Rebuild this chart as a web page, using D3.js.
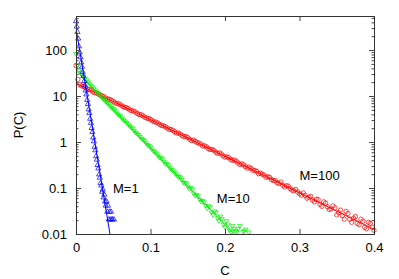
<!DOCTYPE html>
<html>
<head>
<meta charset="utf-8">
<script src="https://cdn.jsdelivr.net/npm/d3@7"></script>
<style>
	body { margin: 0; background: #fff; }
	svg { display: block; }
	text { font-family: "Liberation Sans", Arial, sans-serif; }
</style>
</head>
<body>
<div class="chart__pc"><svg></svg></div>
<script>
(function() {

	// P(C), [C, P]
	var redPts = [[0,46],[0.0025,23],[0.005,17.6],[0.0075,16.6],[0.01,16.2],[0.0125,15.4],[0.015,14.2],[0.0175,13.9],[0.02,13.4],[0.0225,12.3],
		[0.025,11.8],[0.0275,11.6],[0.03,11.1],[0.0325,10.4],[0.035,10.1],[0.0375,9.7],[0.04,9.0],[0.0425,8.6],[0.045,8.5],[0.0475,8.1],
		[0.05,7.6],[0.0525,7.1],[0.055,6.9],[0.0575,6.7],[0.06,6.4],[0.0625,6.0],[0.065,5.7],[0.0675,5.6],[0.07,5.35],[0.0725,4.95],
		[0.075,4.8],[0.0775,4.7],[0.08,4.45],[0.0825,4.15],[0.085,3.95],[0.0875,3.9],[0.09,3.7],[0.0925,3.45],[0.095,3.3],[0.0975,3.25],
		[0.1,3.1],[0.1025,2.9],[0.105,2.75],[0.1075,2.7],[0.11,2.58],[0.1125,2.4],[0.115,2.28],[0.1175,2.25],[0.12,2.15],[0.1225,2.0],
		[0.125,1.9],[0.1275,1.88],[0.13,1.8],[0.1325,1.66],[0.135,1.57],[0.1375,1.56],[0.14,1.49],[0.1425,1.38],[0.145,1.31],[0.1475,1.32],
		[0.15,1.25],[0.1525,1.15],[0.155,1.08],[0.1575,1.10],[0.16,1.04],[0.1625,0.97],[0.165,0.95],[0.1675,0.90],[0.17,0.82],[0.1725,0.83],
		[0.175,0.79],[0.1775,0.72],[0.18,0.69],[0.1825,0.69],[0.185,0.66],[0.1875,0.60],[0.19,0.57],[0.1925,0.58],[0.195,0.55],[0.1975,0.50],
		[0.2,0.47],[0.2025,0.475],[0.205,0.46],[0.2075,0.42],[0.21,0.40],[0.2125,0.405],[0.215,0.385],[0.2175,0.35],[0.22,0.325],[0.2225,0.335],
		[0.225,0.32],[0.2275,0.29],[0.23,0.27],[0.2325,0.285],[0.235,0.265],[0.2375,0.245],[0.24,0.24],[0.2425,0.23],[0.245,0.205],[0.2475,0.21],
		[0.25,0.20],[0.2525,0.19],[0.255,0.172],[0.2575,0.176],[0.26,0.17],[0.2625,0.152],[0.265,0.145],[0.2675,0.145],[0.27,0.13],[0.2725,0.125],
		[0.275,0.135],[0.2775,0.115],[0.28,0.105],[0.2825,0.112],[0.285,0.11],[0.2875,0.097],[0.29,0.09],[0.2925,0.087],[0.295,0.093],[0.2975,0.082],
		[0.3,0.075],[0.3025,0.07],[0.305,0.078],[0.3075,0.069],[0.31,0.06],[0.3125,0.063],[0.315,0.066],[0.3175,0.055],[0.32,0.05],[0.3225,0.057],
		[0.325,0.056],[0.3275,0.044],[0.33,0.04],[0.3325,0.05],[0.335,0.047],[0.3375,0.039],[0.34,0.034],[0.3425,0.035],[0.345,0.041],[0.3475,0.037],
		[0.35,0.026],[0.3525,0.029],[0.355,0.033],[0.3575,0.025],[0.36,0.021],[0.3625,0.031],[0.365,0.028],[0.3675,0.021],[0.37,0.018],[0.3725,0.022],
		[0.375,0.024],[0.3775,0.017],[0.38,0.016],[0.3825,0.021],[0.385,0.019],[0.3875,0.014],[0.39,0.013],[0.3925,0.018],[0.395,0.017],[0.3975,0.014],
		[0.4,0.012]]

	var greenPts = [[0,82],[0.002,45],[0.004,36],[0.006,32],[0.008,29],[0.01,26],[0.012,24],[0.014,22],[0.016,20],[0.018,18.5],
		[0.02,17],[0.022,15.6],[0.024,14.5],[0.026,13.2],[0.028,12],[0.03,11.2],[0.032,10.3],[0.034,9.5],[0.036,8.8],[0.038,8.1],
		[0.04,7.5],[0.042,7.0],[0.044,6.6],[0.046,6.0],[0.048,5.5],[0.05,5.2],[0.052,4.9],[0.054,4.4],[0.056,4.0],[0.058,3.8],
		[0.06,3.6],[0.062,3.25],[0.064,2.95],[0.066,2.8],[0.068,2.6],[0.07,2.4],[0.072,2.2],[0.074,2.05],[0.076,1.95],[0.078,1.75],
		[0.08,1.58],[0.082,1.52],[0.084,1.42],[0.086,1.28],[0.088,1.17],[0.09,1.12],[0.092,1.05],[0.094,0.94],[0.096,0.86],[0.098,0.82],
		[0.1,0.77],[0.102,0.69],[0.104,0.63],[0.106,0.6],[0.108,0.56],[0.11,0.5],[0.112,0.46],[0.114,0.445],[0.116,0.42],[0.118,0.37],
		[0.12,0.33],[0.122,0.33],[0.124,0.31],[0.126,0.27],[0.128,0.25],[0.13,0.24],[0.132,0.22],[0.134,0.2],[0.136,0.18],[0.138,0.172],
		[0.14,0.17],[0.142,0.15],[0.144,0.13],[0.146,0.128],[0.148,0.125],[0.15,0.107],[0.152,0.095],[0.154,0.1],[0.156,0.092],[0.158,0.076],
		[0.16,0.068],[0.162,0.07],[0.164,0.066],[0.166,0.056],[0.168,0.05],[0.17,0.052],[0.172,0.049],[0.174,0.041],[0.176,0.036],[0.178,0.04],
		[0.18,0.038],[0.182,0.029],[0.184,0.026],[0.186,0.031],[0.188,0.029],[0.19,0.022],[0.192,0.019],[0.194,0.024],[0.196,0.021],[0.198,0.016],
		[0.2,0.014],[0.202,0.019],[0.204,0.016],[0.206,0.012],[0.208,0.011],[0.21,0.015],[0.212,0.013],[0.214,0.0115],[0.216,0.011],[0.218,0.013],
		[0.22,0.015],[0.224,0.011],[0.226,0.0115],[0.228,0.0125],[0.232,0.0108]]

	var bluePts = [[0,430],[0.001,330],[0.002,250],[0.003,180],[0.004,122],[0.005,90],[0.006,71],[0.007,55],[0.008,44],[0.009,34],
		[0.01,27.5],[0.011,21.5],[0.012,17.4],[0.013,13.4],[0.014,11],[0.015,8.4],[0.016,6.8],[0.017,5.2],[0.018,4.3],[0.019,3.25],
		[0.02,2.65],[0.021,2.05],[0.022,1.68],[0.023,1.27],[0.024,1.05],[0.025,0.8],[0.026,0.67],[0.027,0.5],[0.028,0.42],[0.029,0.32],
		[0.03,0.27],[0.031,0.2],[0.032,0.17],[0.033,0.13],[0.034,0.115],[0.035,0.084],[0.036,0.094],[0.037,0.063],[0.038,0.073],[0.039,0.052],
		[0.04,0.042],[0.041,0.052],[0.042,0.031],[0.043,0.042],[0.044,0.021],[0.045,0.031],[0.046,0.021],[0.047,0.031],[0.048,0.021],[0.049,0.021],
		[0.051,0.021]]

	// fitted exponentials, end points
	var redFit = [[0,19],[0.4,0.0126]]
	var greenFit = [[0,36],[0.212,0.01]]
	var blueFit = [[0,300],[0.0456,0.01]]

	var seriesNames = ['M=100', 'M=10', 'M=1']
	var seriesColors = ['#ff0000', '#00ee00', '#0000ff']
	var labelPos = [[0.3,0.149],[0.189,0.047],[0.0497,0.078]]

	var xTicks = [0, 0.1, 0.2, 0.3, 0.4]
	var xTickLabels = ['0', '0.1', '0.2', '0.3', '0.4']
	var yTicks = [0.01, 0.1, 1, 10, 100]
	var yTickLabels = ['0.01', '0.1', '1', '10', '100']
	var xDomain = [0, 0.4]
	var yDomain = [0.01, 550]

	var svgWidth = 399
	var svgHeight = 279
	var margin = { top: 16, bottom: 45, left: 76, right: 25 }
	var chartWidth = svgWidth - margin.left - margin.right
	var chartHeight = svgHeight - margin.top - margin.bottom
	var scales = {}

	var svg = d3.select('.chart__pc svg')
		.attr('width', svgWidth)
		.attr('height', svgHeight)

	var g = svg.append('g')
		.attr('transform', 'translate(' + margin.left + ',' + margin.top + ')')

	function setupScales() {
		scales.x = d3.scaleLinear().domain(xDomain).range([0, chartWidth])
		scales.y = d3.scaleLog().domain(yDomain).range([chartHeight, 0])
	}

	function minorTicks() {
		var out = []
		for (var e = -2; e <= 2; e++) {
			for (var m = 2; m <= 9; m++) {
				var v = m * Math.pow(10, e)
				if (v < yDomain[1]) out.push(v)
			}
		}
		return out
	}

	function styleAxis(sel) {
		sel.select('.domain').remove()
		sel.attr('color', '#444')
		sel.selectAll('line').attr('stroke-width', 1)
		sel.selectAll('text')
			.attr('font-family', '"Liberation Sans", Arial, sans-serif')
			.attr('font-size', 13)
			.attr('fill', '#000')
	}

	function drawAxes() {
		var fmtX = function(d, i) { return xTickLabels[i] }
		var fmtY = function(d, i) { return yTickLabels[i] }

		g.append('g')
			.attr('class', 'axis axis--x')
			.attr('transform', 'translate(0,' + chartHeight + ')')
			.call(d3.axisBottom(scales.x).tickValues(xTicks).tickFormat(fmtX).tickSize(-5).tickPadding(9))
			.call(styleAxis)

		g.append('g')
			.attr('class', 'axis axis--x-top')
			.call(d3.axisTop(scales.x).tickValues(xTicks).tickFormat('').tickSize(-5))
			.call(styleAxis)

		g.append('g')
			.attr('class', 'axis axis--y')
			.call(d3.axisLeft(scales.y).tickValues(yTicks).tickFormat(fmtY).tickSize(-5).tickPadding(9))
			.call(styleAxis)

		g.append('g')
			.attr('class', 'axis axis--y-right')
			.attr('transform', 'translate(' + chartWidth + ',0)')
			.call(d3.axisRight(scales.y).tickValues(yTicks).tickFormat('').tickSize(-5))
			.call(styleAxis)

		g.append('g')
			.attr('class', 'axis axis--y-minor')
			.call(d3.axisLeft(scales.y).tickValues(minorTicks()).tickFormat('').tickSize(-2.5))
			.call(styleAxis)

		g.append('g')
			.attr('class', 'axis axis--y-minor-right')
			.attr('transform', 'translate(' + chartWidth + ',0)')
			.call(d3.axisRight(scales.y).tickValues(minorTicks()).tickFormat('').tickSize(-2.5))
			.call(styleAxis)

		g.append('rect')
			.attr('class', 'frame')
			.attr('x', 0.5)
			.attr('y', 0.5)
			.attr('width', chartWidth)
			.attr('height', chartHeight)
			.attr('fill', 'none')
			.attr('stroke', '#333')
			.attr('stroke-width', 1)
	}

	function drawLabels() {
		svg.append('text')
			.attr('class', 'label--x')
			.attr('text-anchor', 'middle')
			.attr('font-size', 13)
			.attr('x', margin.left + chartWidth / 2)
			.attr('y', 275)
			.text('C')

		svg.append('text')
			.attr('class', 'label--y')
			.attr('text-anchor', 'middle')
			.attr('font-size', 13)
			.attr('transform', 'translate(23,' + (margin.top + chartHeight / 2) + ')rotate(-90)')
			.text('P(C)')

		g.selectAll('.series-label')
			.data(seriesNames)
			.enter()
			.append('text')
			.attr('class', 'series-label')
			.attr('font-size', 13)
			.attr('x', function(d, i) { return scales.x(labelPos[i][0]) })
			.attr('y', function(d, i) { return scales.y(labelPos[i][1]) })
			.text(function(d) { return d })
	}

	function circleMark(sel) {
		sel.append('circle').attr('r', 2.2)
	}

	function triDownMark(sel) {
		sel.append('path').attr('d', 'M-2.3,-1.5L2.3,-1.5L0,2.3Z')
	}

	function triUpMark(sel) {
		sel.append('path').attr('d', 'M-2.6,1.8L2.6,1.8L0,-2.6Z')
	}

	function drawSeries() {
		g.append('clipPath')
			.attr('id', 'plot-clip')
			.append('rect')
			.attr('width', chartWidth)
			.attr('height', chartHeight)

		var line = d3.line()
			.x(function(d) { return scales.x(d[0]) })
			.y(function(d) { return scales.y(d[1]) })

		var all = [
			{ pts: redPts, fit: redFit, mark: circleMark },
			{ pts: greenPts, fit: greenFit, mark: triDownMark },
			{ pts: bluePts, fit: blueFit, mark: triUpMark }
		]

		all.forEach(function(s, i) {
			var gs = g.append('g')
				.attr('class', 'series')
				.attr('stroke', seriesColors[i])
				.attr('fill', 'none')

			gs.append('path')
				.attr('class', 'fit')
				.attr('clip-path', 'url(#plot-clip)')
				.attr('stroke-width', 1)
				.attr('d', line(s.fit))

			gs.selectAll('.pt')
				.data(s.pts)
				.enter()
				.append('g')
				.attr('class', 'pt')
				.attr('stroke-width', 0.7)
				.attr('transform', function(d) {
					return 'translate(' + scales.x(d[0]) + ',' + scales.y(d[1]) + ')'
				})
				.call(s.mark)
		})
	}

	function init() {
		setupScales()
		drawSeries()
		drawAxes()
		drawLabels()
	}

	init()
})()
</script>
</body>
</html>
